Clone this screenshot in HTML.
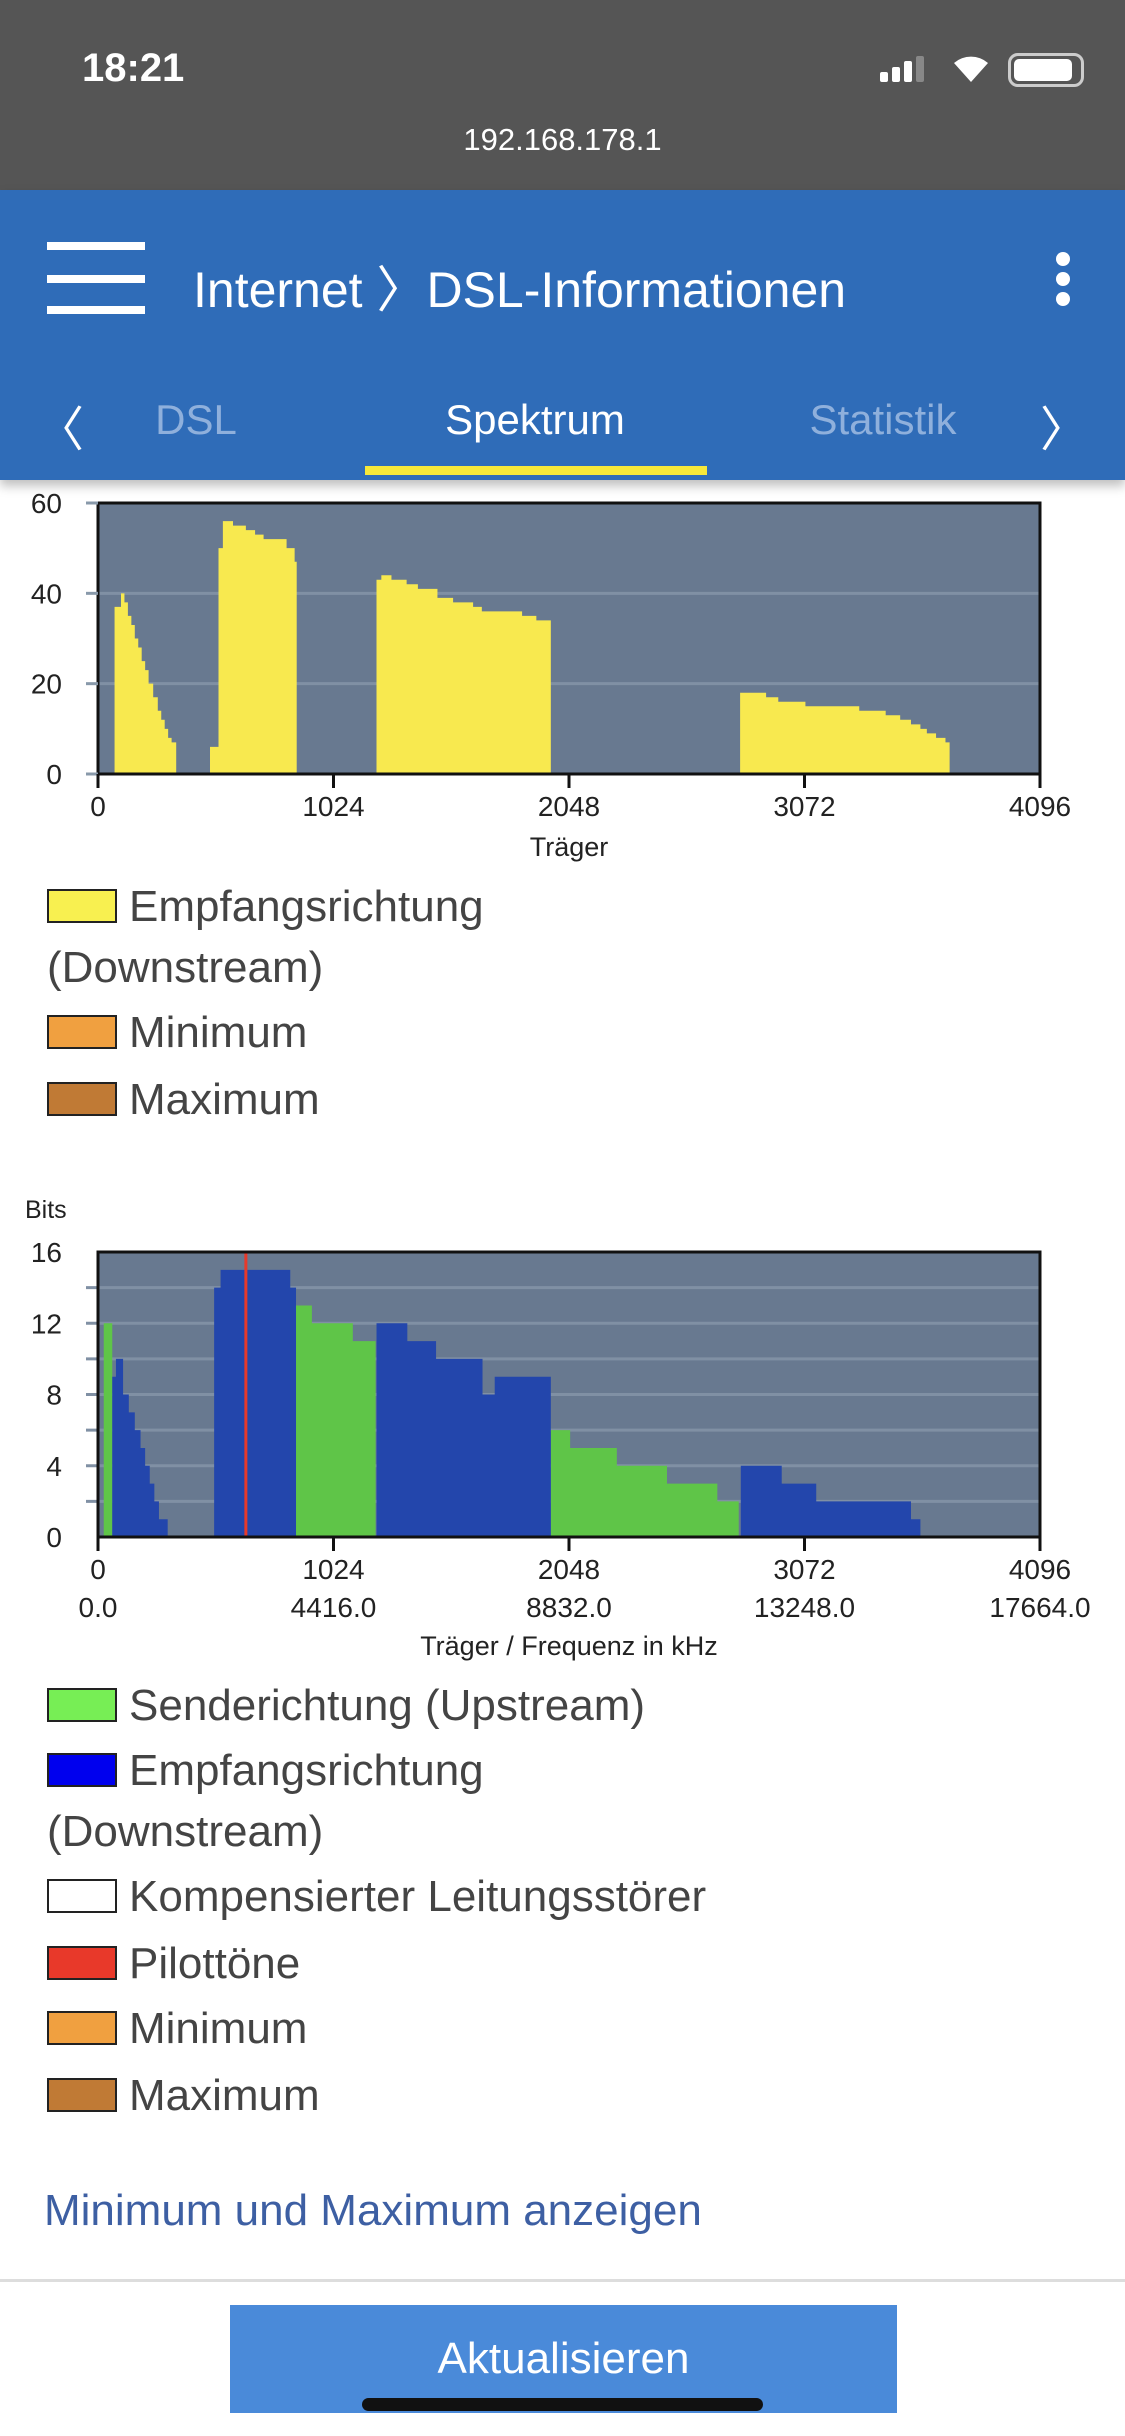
<!DOCTYPE html>
<html><head><meta charset="utf-8">
<style>
*{margin:0;padding:0;box-sizing:border-box}
body{width:1125px;height:2436px;position:relative;background:#fff;font-family:"Liberation Sans",sans-serif;overflow:hidden;color:#444}
.abs{position:absolute}
.lg{position:absolute;left:47px;font-size:44px;color:#444;white-space:nowrap;line-height:61px}
.lg .bx{display:inline-block;width:70px;height:34px;border:2px solid #222;vertical-align:middle;margin-right:12px;margin-top:-6px}
</style></head><body>
<div class="abs" style="left:0;top:0;width:1125px;height:190px;background:#555">
  <div class="abs" style="left:82px;top:46px;color:#fff;font-size:40px;font-weight:bold">18:21</div>
  <div class="abs" style="left:880px;top:56px;width:44px;height:26px">
    <div class="abs" style="left:0;top:16px;width:8px;height:10px;background:#fff;border-radius:2px"></div>
    <div class="abs" style="left:12px;top:11px;width:8px;height:15px;background:#fff;border-radius:2px"></div>
    <div class="abs" style="left:24px;top:5px;width:8px;height:21px;background:#fff;border-radius:2px"></div>
    <div class="abs" style="left:36px;top:0;width:8px;height:26px;background:#888;border-radius:2px"></div>
  </div>
  <div class="abs" style="left:950px;top:50px;color:#fff;font-size:36px">
    <svg width="42" height="34"><path d="M21 32 L4 13 A26 26 0 0 1 38 13 Z" fill="#fff"/></svg></div>
  <div class="abs" style="left:1008px;top:53px;width:76px;height:34px;border:3px solid #ccc;border-radius:10px;padding:3px"><div style="width:58px;height:22px;background:#fff;border-radius:5px"></div></div>
  <div class="abs" style="left:0;width:1125px;top:122px;text-align:center;color:#fff;font-size:31px">192.168.178.1</div>
</div>
<div class="abs" style="left:0;top:190px;width:1125px;height:290px;background:#2f6cb8;box-shadow:0 6px 10px rgba(0,0,0,.25)">
  <div class="abs" style="left:47px;top:52px;width:98px;height:72px">
    <div class="abs" style="left:0;top:0;width:98px;height:8px;background:#fff"></div>
    <div class="abs" style="left:0;top:33px;width:98px;height:8px;background:#fff"></div>
    <div class="abs" style="left:0;top:64px;width:98px;height:8px;background:#fff"></div>
  </div>
  <div class="abs" style="left:193px;top:60px;color:#fff;font-size:50px">Internet 〉DSL-Informationen</div>
  <div class="abs" style="left:1056px;top:62px;width:16px">
    <div style="width:14px;height:14px;background:#fff;border-radius:50%;margin-bottom:6px"></div>
    <div style="width:14px;height:14px;background:#fff;border-radius:50%;margin-bottom:6px"></div>
    <div style="width:14px;height:14px;background:#fff;border-radius:50%"></div>
  </div>
  <div class="abs" style="left:36px;top:200px;color:#fff;font-size:48px">〈</div>
  <div class="abs" style="left:96px;width:200px;text-align:center;top:206px;color:#8fb0dc;font-size:42px">DSL</div>
  <div class="abs" style="left:385px;width:300px;text-align:center;top:206px;color:#fff;font-size:42px">Spektrum</div>
  <div class="abs" style="left:733px;width:300px;text-align:center;top:206px;color:#8fb0dc;font-size:42px">Statistik</div>
  <div class="abs" style="left:1040px;top:200px;color:#fff;font-size:48px">〉</div>
  <div class="abs" style="left:365px;top:276px;width:342px;height:9px;background:#f6e83a"></div>
</div>

<svg class="abs" id="c1" style="left:0;top:480px" width="1125" height="400"></svg>
<div class="lg" style="top:876px"><span class="bx" style="background:#f8f050"></span>Empfangsrichtung<br>(Downstream)</div>
<div class="lg" style="top:1002px"><span class="bx" style="background:#f0a040"></span>Minimum</div>
<div class="lg" style="top:1069px"><span class="bx" style="background:#c07a35"></span>Maximum</div>

<svg class="abs" id="c2" style="left:0;top:1180px" width="1125" height="500"></svg>
<div class="lg" style="top:1675px"><span class="bx" style="background:#77ee55"></span>Senderichtung (Upstream)</div>
<div class="lg" style="top:1740px"><span class="bx" style="background:#0000ee"></span>Empfangsrichtung<br>(Downstream)</div>
<div class="lg" style="top:1866px"><span class="bx" style="background:#fff"></span>Kompensierter Leitungsstörer</div>
<div class="lg" style="top:1933px"><span class="bx" style="background:#e8392a"></span>Pilottöne</div>
<div class="lg" style="top:1998px"><span class="bx" style="background:#f0a040"></span>Minimum</div>
<div class="lg" style="top:2065px"><span class="bx" style="background:#c07a35"></span>Maximum</div>

<div class="abs" style="left:44px;top:2186px;color:#3d5fa3;font-size:44px">Minimum und Maximum anzeigen</div>
<div class="abs" style="left:0;top:2279px;width:1125px;height:3px;background:#ddd"></div>
<div class="abs" style="left:230px;top:2305px;width:667px;height:108px;background:#4a8ad9;color:#fff;font-size:44px;text-align:center;line-height:108px">Aktualisieren</div>
<div class="abs" style="left:362px;top:2398px;width:401px;height:13px;background:#111;border-radius:7px"></div>

<script>
// Chart 1 data (step function: value holds from carrier until next carrier)
const snrCarriers=[0,72,100,115,130,145,160,175,190,205,220,240,260,275,290,305,320,340,487,524,543,587,643,683,720,790,820,855,864,1211,1232,1276,1342,1391,1476,1544,1631,1669,1709,1844,1906,1969,2792,2905,2958,3076,3310,3354,3425,3488,3535,3576,3604,3644,3685,3703];
const snrValues=[0,37,40,38,35,33,30,28,25,23,20,17,14,12,10,8,7,0,6,50,56,55,54,53,52,52,50,47,0,43,44,43,42,41,39,38,37,36,36,35,34,0,18,17,16,15,14,14,13,12,11,10,9,8,7,0];
const snrTicksY=[0,20,40,60];
const xTicks=[0,1024,2048,3072,4096];
const freqTicks=["0.0","4416.0","8832.0","13248.0","17664.0"];
// Chart 2 data
const upCarriers=[0,25,62,861,930,1108,1207,1969,2053,2256,2474,2693,2786];
const upValues=[0,12,0,13,12,11,0,6,5,4,3,2,0];
const dsCarriers=[0,62,78,109,134,160,185,205,225,245,265,285,303,505,533,836,861,1211,1345,1470,1672,1725,1969,2795,2973,3123,3535,3576];
const dsValues=[0,9,10,8,7,6,5,4,3,2,1,1,0,14,15,14,0,12,11,10,8,9,0,4,3,2,1,0];
const bitsTicksY=[0,4,8,12,16];
const bitsGrid=[2,4,6,8,10,12,14];
const pilotCarrier=643;

const NS="http://www.w3.org/2000/svg";
function mk(svg,tag,attrs,txt){const e=document.createElementNS(NS,tag);for(const k in attrs)e.setAttribute(k,attrs[k]);if(txt!==undefined)e.textContent=txt;svg.appendChild(e);return e;}
const L=98,R=1040;
function sx(c){return L+c/4096*(R-L);}
function stepPath(cs,vs,sy,end){let d="M"+sx(cs[0])+" "+sy(0);for(let i=0;i<cs.length;i++){const x0=sx(cs[i]),x1=sx(i+1<cs.length?cs[i+1]:end);d+=" L"+x0+" "+sy(vs[i])+" L"+x1+" "+sy(vs[i]);}d+=" L"+sx(end)+" "+sy(0)+" Z";return d;}

// chart 1
(function(){
const svg=document.getElementById('c1');const T=23,B=294;const sy=v=>B-v/60*(B-T);
const bg=mk(svg,'rect',{x:L,y:T,width:R-L,height:B-T,fill:'#687990'});

[20,40].forEach(v=>{const g=mk(svg,'line',{x1:L,x2:R,y1:sy(v),y2:sy(v),stroke:'#8090a4','stroke-width':3});});
const a=mk(svg,'path',{d:stepPath(snrCarriers,snrValues,sy,3703),fill:'#f8e94f'});

mk(svg,'rect',{x:L,y:T,width:R-L,height:B-T,fill:'none',stroke:'#111','stroke-width':3});
snrTicksY.forEach(v=>{const t=mk(svg,'text',{x:62,y:sy(v)+10,'text-anchor':'end','font-size':28,fill:'#222'},v);
mk(svg,'line',{x1:L-12,x2:L,y1:sy(v),y2:sy(v),stroke:'#8899aa','stroke-width':3});});
xTicks.forEach(v=>{mk(svg,'line',{x1:sx(v),x2:sx(v),y1:B,y2:B+14,stroke:'#111','stroke-width':3});
const t=mk(svg,'text',{x:sx(v),y:B+42,'text-anchor':'middle','font-size':28,fill:'#222'},v);});
const xt=mk(svg,'text',{x:(L+R)/2,y:B+82,'text-anchor':'middle','font-size':27,fill:'#222'},'Träger');

})();

// chart 2
(function(){
const svg=document.getElementById('c2');const T=72,B=357;const sy=v=>B-v/16*(B-T);
const yt=mk(svg,'text',{x:25,y:38,'font-size':25,fill:'#222'},'Bits');

const bg=mk(svg,'rect',{x:L,y:T,width:R-L,height:B-T,fill:'#687990'});

bitsGrid.forEach(v=>{const g=mk(svg,'line',{x1:L-12,x2:R,y1:sy(v),y2:sy(v),stroke:'#8090a4','stroke-width':3});});
const u=mk(svg,'path',{d:stepPath(upCarriers,upValues,sy,2786),fill:'#5fc548'});

const d=mk(svg,'path',{d:stepPath(dsCarriers,dsValues,sy,3576),fill:'#2346ac'});

const p=mk(svg,'line',{x1:sx(pilotCarrier),x2:sx(pilotCarrier),y1:T,y2:B,stroke:'#e8392a','stroke-width':3});

mk(svg,'rect',{x:L,y:T,width:R-L,height:B-T,fill:'none',stroke:'#111','stroke-width':3});
bitsTicksY.forEach(v=>{const t=mk(svg,'text',{x:62,y:sy(v)+10,'text-anchor':'end','font-size':28,fill:'#222'},v);});
xTicks.forEach((v,i)=>{mk(svg,'line',{x1:sx(v),x2:sx(v),y1:B,y2:B+14,stroke:'#111','stroke-width':3});
const t=mk(svg,'text',{x:sx(v),y:B+42,'text-anchor':'middle','font-size':28,fill:'#222'},v);
const f=mk(svg,'text',{x:Math.min(sx(v),1080),y:B+80,'text-anchor':'middle','font-size':28,fill:'#222'},freqTicks[i]);});
const xt=mk(svg,'text',{x:(L+R)/2,y:B+118,'text-anchor':'middle','font-size':27,fill:'#222'},'Träger / Frequenz in kHz');

})();
</script>
</body></html>
